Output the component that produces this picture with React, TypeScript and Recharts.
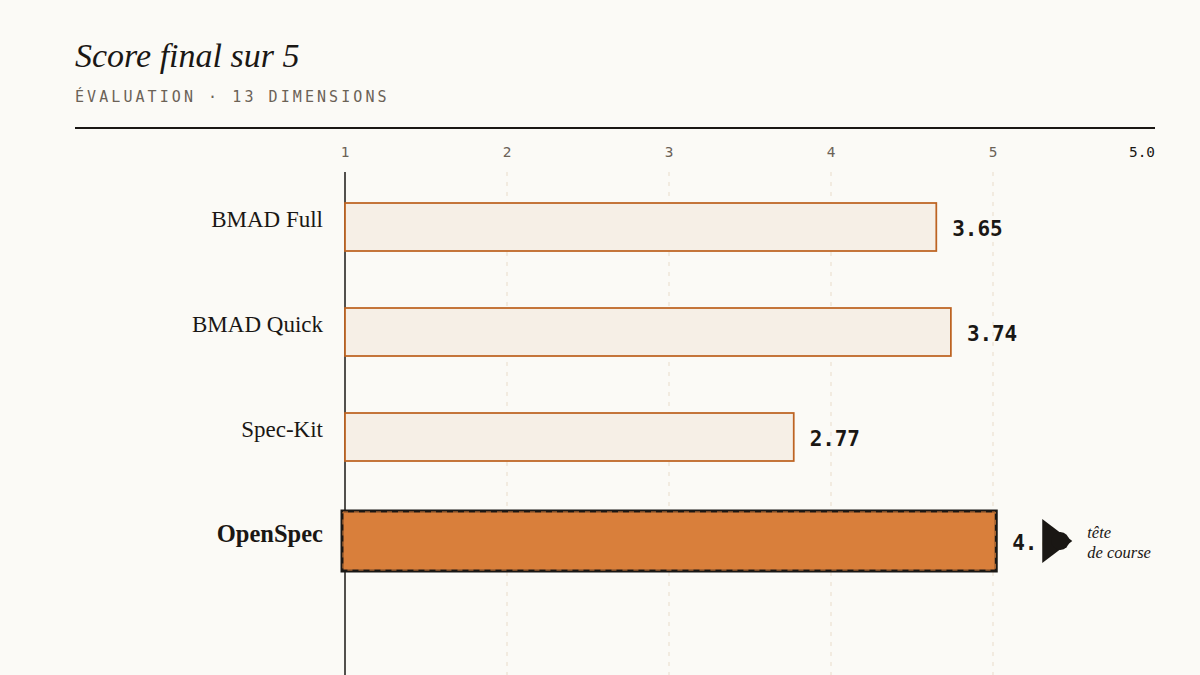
import React from "react";
import { BarChart, Bar, XAxis, YAxis, CartesianGrid, LabelList } from "recharts";

const categories = ["BMAD Full", "BMAD Quick", "Spec-Kit", "OpenSpec"];
const scores = [3.65, 3.74, 2.77, 4.02];
const tickValues = [0, 1, 2, 3, 4, 5];
const tickLabels = ["1", "2", "3", "4", "5", "5.0"];
const gridValues = [1, 2, 3, 4];
const baseValues = [0];
const LEADER = "OpenSpec";

const INK = "#1a1714";
const PAPER = "#fbfaf6";
const MUTED = "#6b6256";
const RUST = "#bd6322";
const CREAM = "#f6efe6";
const ORANGE = "#d97f3b";
const SERIF = "'Liberation Serif', serif";
const MONO = "'DejaVu Sans Mono', monospace";

const data = categories.map((name, i) => ({ name, score: scores[i] }));

function TopTick({ x, y, payload }: any) {
  const last = payload.value === 5;
  return (
    <text
      x={x}
      y={y - 9}
      textAnchor={last ? "end" : "middle"}
      fontFamily={MONO}
      fontSize={14.4}
      fill={last ? INK : MUTED}
    >
      {tickLabels[payload.value]}
    </text>
  );
}

function NameTick({ x, y, payload }: any) {
  const lead = payload.value === LEADER;
  return (
    <text
      x={x}
      y={y}
      textAnchor="end"
      fontFamily={SERIF}
      fontSize={lead ? 24.5 : 23}
      fontWeight={lead ? 700 : 400}
      fill={INK}
    >
      {payload.value}
    </text>
  );
}

function ScoreBar({ x, y, width, height, payload }: any) {
  if (payload.name !== LEADER) {
    return (
      <rect x={x} y={y} width={width} height={height} fill={CREAM} stroke={RUST} strokeWidth={1.75} />
    );
  }
  // the leader is drawn bigger than its row, with a heavy frame
  return (
    <g>
      <rect
        x={x - 3}
        y={y - 7}
        width={width + 3}
        height={height + 12}
        fill={ORANGE}
        stroke={INK}
        strokeWidth={3}
      />
      <rect
        x={x - 2}
        y={y - 6}
        width={width + 1}
        height={height + 10}
        fill="none"
        stroke={ORANGE}
        strokeWidth={1}
        strokeDasharray="5 6"
      />
    </g>
  );
}

function ScoreLabel({ x, y, width, height, index }: any) {
  const name = categories[index];
  const lx = x + width + 16;
  const cy = y + height / 2;
  if (name !== LEADER) {
    return (
      <text x={lx} y={cy + 8.5} fontFamily={MONO} fontSize={21} fontWeight={700} letterSpacing={-0.1} fill={INK}>
        {scores[index].toFixed(2)}
      </text>
    );
  }
  const [whole, decimals] = scores[index].toFixed(2).split(".");
  return (
    <g>
      {/* the decimals sit behind the marker, as in the source */}
      <text x={lx} y={cy + 7.5} fontFamily={MONO} fontSize={21} fontWeight={700} letterSpacing={-0.1} fill={INK}>
        {whole}.
        <tspan dx={5} fontSize={15}>
          {decimals}
        </tspan>
      </text>
      <path d={`M${lx + 30} ${cy - 23} L${lx + 59} ${cy - 1} L${lx + 30} ${cy + 21} Z`} fill={INK} />
      <circle cx={lx + 48} cy={cy - 1} r={9} fill={INK} />
      <path d={`M${lx + 55} ${cy - 5} L${lx + 60} ${cy - 1} L${lx + 55} ${cy + 3} Z`} fill={INK} />
      <text x={lx + 75} y={cy - 4} fontFamily={SERIF} fontStyle="italic" fontSize={16.5} fill={INK}>
        tête
      </text>
      <text x={lx + 75} y={cy + 16} fontFamily={SERIF} fontStyle="italic" fontSize={16.5} fill={INK}>
        de course
      </text>
    </g>
  );
}

export default function App() {
  return (
    <div style={{ position: "absolute", left: 0, top: 0, width: 1200, height: 675, background: PAPER, overflow: "hidden" }}>
      <div
        style={{
          position: "absolute",
          left: 75,
          top: 34,
          fontFamily: SERIF,
          fontStyle: "italic",
          fontSize: 34,
          lineHeight: "44px",
          color: INK,
        }}
      >
        Score final sur 5
      </div>
      <div
        style={{
          position: "absolute",
          left: 75,
          top: 87,
          fontFamily: MONO,
          fontSize: 15,
          lineHeight: "20px",
          letterSpacing: 3.07,
          color: MUTED,
          whiteSpace: "nowrap",
        }}
      >
        ÉVALUATION · 13 DIMENSIONS
      </div>
      <div style={{ position: "absolute", left: 75, top: 127, width: 1080, height: 1.5, background: INK }} />
      <div style={{ position: "absolute", left: 0, top: 0 }}>
        <BarChart
          width={1200}
          height={675}
          data={data}
          layout="vertical"
          margin={{ top: 132, right: 45, bottom: 0, left: 0 }}
        >
          <CartesianGrid
            horizontal={false}
            verticalValues={gridValues}
            stroke="#efe6d9"
            strokeWidth={1.5}
            strokeDasharray="4 6"
          />
          <CartesianGrid horizontal={false} verticalValues={baseValues} stroke={INK} strokeWidth={1.5} />
          <XAxis
            type="number"
            orientation="top"
            domain={[0, 5]}
            ticks={tickValues}
            interval={0}
            height={40}
            axisLine={false}
            tickLine={false}
            tick={<TopTick />}
            tickMargin={0}
          />
          <YAxis
            type="category"
            dataKey="name"
            width={345}
            axisLine={false}
            tickLine={false}
            tick={<NameTick />}
            tickMargin={16}
            padding={{ top: 2, bottom: 81 }}
          />
          <Bar dataKey="score" barSize={48} isAnimationActive={false} shape={<ScoreBar />}>
            <LabelList dataKey="score" content={<ScoreLabel />} />
          </Bar>
        </BarChart>
      </div>
    </div>
  );
}
